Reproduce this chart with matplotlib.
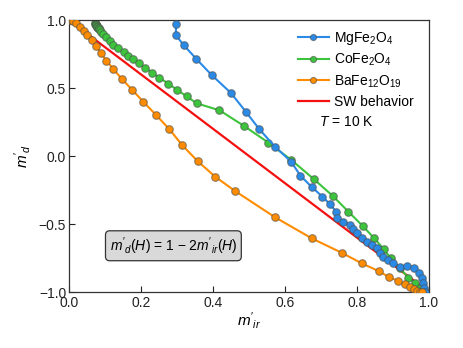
import matplotlib
matplotlib.use("Agg")
import matplotlib.pyplot as plt
import numpy as np

plt.rcParams['font.family'] = ['Liberation Sans', 'DejaVu Sans']
plt.rcParams['mathtext.fontset'] = 'custom'
plt.rcParams['mathtext.rm'] = 'Liberation Sans'
plt.rcParams['mathtext.it'] = 'Liberation Sans:italic'
plt.rcParams['mathtext.bf'] = 'Liberation Sans:bold'

mg_x = [0.297, 0.297, 0.319, 0.353, 0.396, 0.45, 0.491, 0.529, 0.572, 0.617, 0.643,
        0.675, 0.704, 0.725, 0.742, 0.745, 0.762, 0.781, 0.79, 0.799, 0.813, 0.827,
        0.841, 0.855, 0.864, 0.873, 0.887, 0.901, 0.919, 0.938, 0.957, 0.971, 0.98,
        0.984, 0.987, 0.989]
mg_y = [0.97, 0.887, 0.814, 0.716, 0.596, 0.463, 0.326, 0.196, 0.069, -0.042, -0.145,
        -0.23, -0.299, -0.355, -0.409, -0.453, -0.483, -0.507, -0.539, -0.569, -0.605, -0.63,
        -0.654, -0.679, -0.711, -0.74, -0.765, -0.789, -0.814, -0.809, -0.826, -0.863, -0.9,
        -0.936, -0.973, -0.998]

co_x = [0.072, 0.073, 0.074, 0.075, 0.076, 0.077, 0.078, 0.079, 0.080, 0.082, 0.084,
        0.086, 0.090, 0.095, 0.104, 0.114, 0.123, 0.137, 0.154, 0.165, 0.179, 0.194,
        0.212, 0.231, 0.251, 0.276, 0.301, 0.327, 0.355, 0.418, 0.485, 0.554, 0.618,
        0.681, 0.732, 0.776, 0.816, 0.848, 0.874, 0.894, 0.919, 0.943, 0.961, 0.975, 0.989]
co_y = [0.975, 0.972, 0.968, 0.964, 0.96, 0.956, 0.952, 0.948, 0.944, 0.938, 0.932,
        0.924, 0.912, 0.9, 0.877, 0.846, 0.816, 0.792, 0.762, 0.738, 0.711, 0.681,
        0.65, 0.613, 0.576, 0.532, 0.485, 0.438, 0.387, 0.336, 0.223, 0.098, -0.03,
        -0.172, -0.292, -0.409, -0.515, -0.605, -0.684, -0.752, -0.826, -0.895, -0.936, -0.973, -0.998]

ba_x = [0.0, 0.004, 0.007, 0.012, 0.019, 0.031, 0.042, 0.051, 0.063, 0.075, 0.088,
        0.104, 0.123, 0.146, 0.175, 0.206, 0.242, 0.279, 0.314, 0.357, 0.406, 0.461,
        0.572, 0.674, 0.757, 0.813, 0.86, 0.89, 0.915, 0.933, 0.947, 0.958, 0.968,
        0.975, 0.981]
ba_y = [1.0, 1.0, 0.998, 0.99, 0.98, 0.951, 0.922, 0.89, 0.853, 0.809, 0.76,
        0.701, 0.64, 0.569, 0.488, 0.4, 0.301, 0.196, 0.081, -0.037, -0.152, -0.257,
        -0.45, -0.605, -0.711, -0.789, -0.846, -0.892, -0.919, -0.943, -0.966, -0.98, -0.99,
        -0.998, -1.0]

sw_x = [0.0, 1.0]
sw_y = [1.0, -1.0]

fig = plt.figure(figsize=(4.63, 3.48), dpi=100)
ax = fig.add_axes([69/463, 1-292/348, 360/463, 272/348])

mk = dict(marker='o', markersize=5.5, markeredgecolor=(0.3, 0.3, 0.3, 0.6),
          markeredgewidth=0.8, linewidth=1.5)
ax.plot(sw_x, sw_y, color='#f51010', linewidth=1.6, zorder=1, label='SW behavior')
ax.plot(mg_x, mg_y, color='#2a8ae6', markerfacecolor='#2a8ae6', label='MgFe$_2$O$_4$', zorder=3, **mk)
ax.plot(co_x, co_y, color='#3cc43c', markerfacecolor='#3cc43c', label='CoFe$_2$O$_4$', zorder=2, **mk)
ax.plot(ba_x, ba_y, color='#ff8c00', markerfacecolor='#ff8c00', label='BaFe$_{12}$O$_{19}$', zorder=4, **mk)

handles, labels = ax.get_legend_handles_labels()
order = [1, 2, 3, 0]
leg = ax.legend([handles[i] for i in order], [labels[i] for i in order],
                loc='upper right', frameon=False, fontsize=10, handlelength=2.2,
                handletextpad=0.4, borderaxespad=0.3, labelspacing=0.36, markerscale=0.8,
                bbox_to_anchor=(0.985, 1.0))

ax.text(0.769, 0.248, r'$T$ = 10 K', fontsize=10, ha='center', va='center')
ax.text(0.29, -0.66, r"$m'_d(H)$ = 1 $-$ 2$m'_{ir}(H)$", fontsize=10, ha='center', va='center',
        bbox=dict(boxstyle='round,pad=0.3', facecolor='#d9d9d9', edgecolor='#333333', linewidth=0.9))

ax.set_xlim(0, 1)
ax.set_ylim(-1.0, 1.0)
ax.set_xticks([0.0, 0.2, 0.4, 0.6, 0.8, 1.0])
ax.set_yticks([-1.0, -0.5, 0.0, 0.5, 1.0])
ax.tick_params(direction='in', labelsize=10, length=4, width=0.8, colors='#222222', pad=2)
ax.tick_params(axis='x', pad=3)
for s in ax.spines.values():
    s.set_color('#333333')
    s.set_linewidth(0.9)
ax.set_xlabel(r"$m'_{ir}$", fontsize=11, labelpad=0)
ax.set_ylabel(r"$m'_d$", fontsize=11, labelpad=4)

fig.savefig('out.png', dpi=100)
